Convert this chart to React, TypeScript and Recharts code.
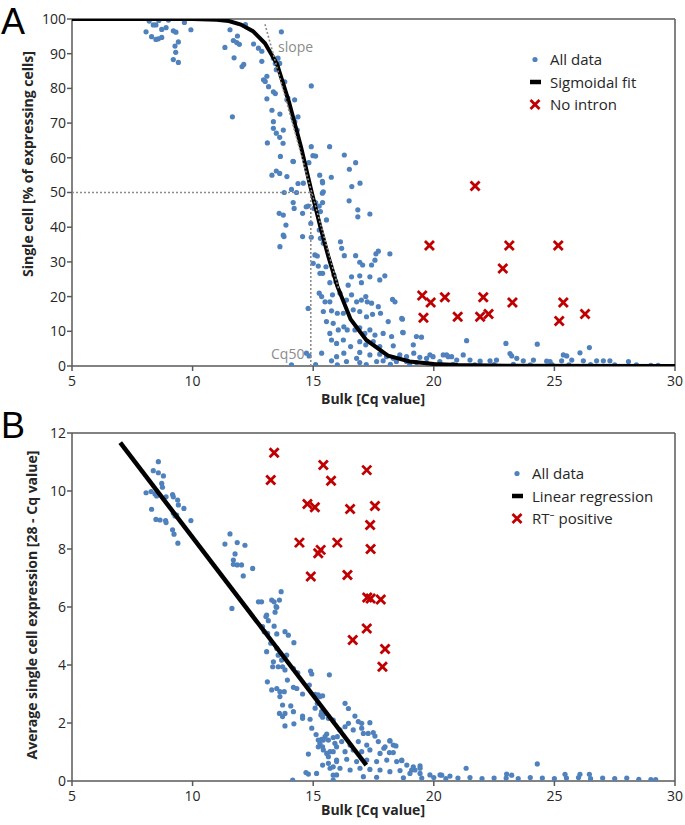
import { ScatterChart, Scatter, XAxis, YAxis, ReferenceLine } from "recharts";

const BLUE = "#4f81bd";
const RED = "#c00000";
const AXIS = "#595959";
const GUIDE = "#8c8c8c";
const TEXT = "#262626";
const FONT = "'Open Sans', 'Noto Sans', sans-serif";

const X_TICKS = [5, 10, 15, 20, 25, 30];
const A_Y_TICKS = [0, 10, 20, 30, 40, 50, 60, 70, 80, 90, 100];
const B_Y_TICKS = [0, 2, 4, 6, 8, 10, 12];

const CQ50 = 14.9;

// panel A: all data
const A_TOP: [number, number][] = [
  [8.07, 96.3], [8.3, 94.9], [8.37, 98.3], [8.48, 98.3], [8.48, 94.1], [8.58, 94.3], [8.72, 94.7], [8.72, 97.0],
  [8.9, 97.5], [9.2, 96.6], [9.31, 96.2], [9.27, 92.2], [9.3, 90.4], [9.2, 88.3], [9.41, 87.5], [9.41, 93.4],
  [9.66, 99.0], [9.93, 96.9], [8.6, 99.6], [9.0, 99.7], [8.2, 99.4],
  [11.34, 91.8], [11.55, 96.9], [11.65, 71.8], [11.69, 93.8], [11.72, 88.8], [11.83, 93.2], [11.86, 95.1],
  [11.94, 92.7], [12.05, 86.3], [12.12, 86.9], [12.19, 98.4], [12.53, 92.8], [12.73, 91.6], [12.87, 90.7],
  [12.87, 87.8], [12.94, 82.5],
];

const A_STEEP: [number, number][] = [
  [13.01, 82.0], [13.08, 83.5], [13.15, 80.5], [13.08, 77.0], [13.29, 73.7], [13.35, 70.4], [13.35, 68.5],
  [13.43, 78.5], [13.35, 79.0], [13.47, 67.1], [13.1, 64.3], [13.61, 65.9], [13.68, 96.3], [13.64, 60.4],
  [13.75, 64.2], [13.61, 55.5], [13.29, 55.0], [13.47, 56.2], [13.54, 88.7], [13.35, 88.7], [13.43, 87.2],
  [13.61, 87.2], [13.47, 85.4], [13.82, 81.9], [13.91, 76.7], [13.95, 77.2], [14.17, 71.4], [14.23, 76.7],
  [14.37, 71.8], [14.34, 68.0], [14.16, 59.0], [13.91, 54.6], [14.37, 52.6], [14.92, 80.7], [14.92, 63.2],
  [14.99, 60.6], [15.1, 60.5], [15.27, 55.0], [15.68, 63.2], [15.75, 54.4], [14.82, 58.6], [14.18, 58.9],
  [16.29, 60.8], [16.76, 58.6], [16.5, 56.7], [16.94, 52.7], [16.6, 51.7], [14.59, 52.7], [13.62, 72.6],
  [13.76, 68.0], [14.24, 70.4],
  [14.1, 50.9], [13.8, 50.0], [14.31, 50.0], [15.39, 52.8], [15.42, 50.2], [15.39, 47.1], [16.49, 47.6],
  [16.85, 45.0], [16.85, 43.0], [17.35, 43.8], [14.17, 47.1], [14.21, 45.4], [13.59, 44.0], [13.76, 43.5],
  [14.56, 44.0], [14.79, 46.1], [15.25, 46.1], [15.3, 44.5], [15.55, 42.1], [13.87, 40.6], [14.9, 41.1],
  [15.1, 47.1], [15.03, 45.4], [14.71, 45.9], [15.38, 49.8], [15.38, 53.2],
];

const A_MID: [number, number][] = [
  [13.76, 37.7], [13.79, 37.3], [14.56, 37.3], [13.62, 34.4], [14.92, 37.1], [15.25, 39.2], [15.3, 36.8],
  [15.42, 35.4], [16.13, 35.8], [16.18, 33.9], [15.07, 32.0], [15.17, 31.7], [16.29, 31.8], [16.76, 31.8],
  [16.93, 29.9], [17.05, 29.1], [17.42, 29.1], [17.56, 30.5], [17.7, 33.1], [17.6, 32.3], [18.18, 32.3],
  [15.0, 29.6], [15.21, 28.8], [15.28, 26.7], [15.39, 26.7], [15.53, 28.6], [15.86, 26.2], [15.94, 24.3],
  [15.69, 24.0], [16.59, 25.7], [16.93, 26.0], [17.0, 24.0], [17.35, 25.7], [17.76, 24.8], [17.97, 26.0],
  [16.45, 23.3], [15.25, 21.0], [15.35, 20.0], [15.49, 18.5], [15.69, 18.5], [15.8, 20.5], [16.11, 21.0],
  [16.38, 19.0], [16.59, 20.5], [16.8, 18.5], [17.0, 19.0], [17.18, 20.0], [17.24, 18.5], [17.42, 18.1],
  [17.7, 17.1], [18.29, 19.2], [18.39, 18.5], [14.79, 16.6], [15.42, 15.7], [15.76, 15.9], [16.0, 15.2],
  [16.25, 15.2], [16.66, 16.2], [16.93, 15.7], [17.21, 14.2], [17.46, 14.9], [17.79, 15.2], [18.11, 12.8],
  [18.7, 13.5], [15.55, 12.8], [15.83, 12.3], [16.04, 10.4], [16.27, 11.3], [16.41, 10.4], [16.73, 10.4],
  [16.93, 11.0], [17.35, 10.4], [18.73, 9.6], [18.67, 13.7], [18.71, 9.7],
];

const A_LOW: [number, number][] = [
  [15.69, 9.4], [17.14, 9.4], [17.56, 8.9], [17.9, 9.4], [18.25, 8.5], [15.76, 7.5], [15.97, 6.5], [16.25, 7.5],
  [16.55, 5.6], [16.93, 7.0], [17.18, 6.1], [17.49, 7.0], [17.76, 5.6], [18.32, 5.8], [19.15, 6.1], [19.28, 8.5],
  [19.49, 8.3], [15.35, 3.7], [15.97, 2.7], [16.27, 3.7], [16.8, 2.2], [16.93, 3.9], [17.35, 3.2], [17.76, 3.4],
  [18.04, 2.7], [18.32, 2.2], [18.59, 3.2], [18.87, 2.7], [19.17, 3.7], [19.42, 2.5], [19.7, 2.2], [19.97, 2.7],
  [20.39, 3.2], [20.6, 2.7], [14.83, 2.9], [14.72, 3.7], [15.76, 1.5], [16.38, 1.3], [16.93, 1.0], [17.63, 1.3],
  [17.9, 1.5], [18.45, 1.3], [18.87, 1.3], [19.28, 1.0], [19.7, 1.0], [20.25, 1.3], [14.1, 0.3], [15.1, 0.4],
  [16.0, 0.3], [17.2, 0.4], [18.2, 0.5], [19.0, 0.4],
];

const A_TAIL: [number, number][] = [
  [21.36, 7.3], [22.99, 6.5], [24.29, 6.3], [26.45, 5.3], [26.06, 3.8], [19.84, 3.2], [20.53, 3.2], [20.74, 2.7],
  [20.95, 1.7], [21.22, 3.2], [21.5, 1.7], [21.92, 1.4], [22.33, 1.5], [22.6, 1.7], [23.16, 3.6], [23.23, 2.9],
  [23.44, 2.2], [23.71, 1.5], [24.13, 1.7], [24.68, 1.4], [24.82, 1.3], [25.3, 1.5], [25.37, 3.2], [25.51, 2.9],
  [25.72, 1.7], [26.2, 1.5], [26.75, 1.5], [27.03, 1.5], [27.3, 1.5], [28.07, 1.3], [20.0, 0.4], [20.8, 0.5],
  [21.7, 0.3], [22.5, 0.4], [23.3, 0.5], [24.0, 0.3], [24.9, 0.4], [25.6, 0.3], [26.5, 0.4], [27.5, 0.3],
  [28.4, 0.3], [29.0, 0.2], [29.3, 0.2],
];

const A_NO_INTRON: [number, number][] = [
  [21.71, 51.9], [19.82, 34.7], [23.13, 34.7], [25.16, 34.7], [22.86, 28.1], [19.52, 20.3], [19.87, 18.3],
  [20.46, 19.8], [22.05, 19.8], [23.26, 18.3], [25.37, 18.3], [19.57, 13.9], [20.99, 14.2], [21.92, 14.2],
  [22.27, 15.0], [25.2, 13.0], [26.27, 15.0],
];

// sigmoidal fit
const A_FIT: [number, number][] = [
  [5, 100], [10, 100], [11, 99.8], [11.5, 99.4], [12, 98.4], [12.5, 96.5], [13, 93], [13.5, 87], [14, 76],
  [14.5, 63], [14.94, 50], [15.3, 40], [15.63, 31.5], [16, 23], [16.55, 13.5], [17.2, 7.5], [18.1, 3],
  [19, 1.3], [20, 0.6], [21, 0.3], [23, 0.1], [30, 0],
];
const A_SLOPE: [number, number][] = [[13.0, 98.5], [16.06, 22]];
const A_CQ50_H: [number, number][] = [[5, 50], [CQ50, 50]];
const A_CQ50_V: [number, number][] = [[CQ50, 0], [CQ50, 50]];

// panel B
const B_UPPER: [number, number][] = [
  [8.07, 9.94], [8.28, 9.98], [8.37, 10.7], [8.58, 11.01], [8.58, 10.63], [8.79, 10.52], [8.72, 10.26],
  [8.75, 10.13], [8.44, 9.9], [8.51, 9.83], [8.9, 9.8], [9.17, 9.88], [9.2, 9.8], [9.38, 9.69], [9.41, 9.52],
  [9.64, 9.4], [9.2, 9.23], [9.27, 9.14], [9.34, 9.17], [9.93, 8.98], [8.3, 9.37], [8.48, 9.02], [8.65, 9.0],
  [8.88, 8.98], [8.9, 8.91], [9.17, 8.66], [9.23, 8.51], [9.39, 8.2],
  [11.55, 8.52], [11.34, 8.17], [11.85, 8.22], [12.17, 8.13], [11.76, 7.83], [11.69, 7.62], [11.69, 7.47],
  [11.85, 7.45], [12.03, 7.45], [12.49, 7.33], [12.1, 7.07], [11.63, 5.95], [12.73, 6.18], [12.86, 6.18],
  [13.28, 6.24], [13.38, 6.18], [13.67, 6.53], [13.6, 6.24], [13.46, 6.01], [13.42, 5.82], [13.04, 5.67],
];

const B_MID: [number, number][] = [
  [13.07, 5.72], [13.14, 5.53], [13.49, 5.99], [12.9, 5.32], [12.97, 5.15], [13.11, 5.09], [13.38, 5.34],
  [13.49, 5.07], [13.83, 5.15], [13.97, 5.03], [14.2, 4.77], [13.24, 4.75], [13.07, 4.46], [13.49, 4.57],
  [13.55, 4.34], [13.9, 4.34], [13.69, 4.17], [13.35, 4.11], [13.32, 3.94], [13.55, 3.94], [13.73, 3.94],
  [13.83, 3.83], [14.18, 3.88], [14.36, 3.73], [14.89, 3.79], [14.94, 3.69], [15.67, 3.66], [13.1, 3.42],
  [13.93, 3.48], [13.49, 3.19], [13.28, 3.14], [13.62, 3.08], [13.8, 3.08], [14.18, 3.23], [14.32, 3.19],
  [13.62, 2.91], [14.56, 3.0], [14.84, 3.31], [15.08, 2.99], [15.28, 2.91], [15.39, 2.94], [13.73, 2.62],
  [14.07, 2.59], [15.08, 2.51], [13.6, 2.33], [13.83, 2.33], [13.73, 2.22], [13.83, 1.9], [14.18, 2.39],
  [14.56, 2.24], [14.56, 2.16], [14.87, 2.13], [15.32, 2.28], [15.39, 2.2], [15.49, 2.33], [15.63, 2.16],
  [14.2, 1.97], [14.94, 1.82],
];

const B_LOW: [number, number][] = [
  [15.12, 1.6], [15.21, 1.41], [15.28, 1.3], [15.35, 1.44], [15.49, 1.53], [15.63, 1.41], [15.39, 1.18],
  [15.21, 1.18], [15.83, 1.5], [15.9, 1.3], [15.7, 1.01], [15.56, 0.95], [14.8, 0.93], [15.39, 0.55],
  [15.63, 0.61], [15.7, 0.44], [15.83, 0.49], [15.97, 0.67], [14.7, 0.29], [14.8, 0.24], [15.14, 0.26],
  [14.15, 0.03], [15.83, 0.2], [15.83, 0.03],
  [15.21, 2.97], [15.17, 2.68], [15.35, 2.39], [15.83, 2.1], [16.32, 2.68], [16.46, 2.5], [16.73, 2.24],
  [16.46, 1.99], [16.32, 1.87], [16.87, 2.05], [17.01, 1.99], [17.35, 2.01], [17.49, 1.67], [17.56, 1.55],
  [17.28, 1.64], [17.01, 1.82], [17.08, 1.64], [16.66, 1.76], [16.11, 1.76], [16.0, 1.53], [15.56, 1.62],
  [15.42, 1.41], [15.97, 1.18], [16.18, 1.36], [16.53, 1.24], [16.87, 1.36], [17.22, 1.24], [17.7, 1.36],
  [18.18, 1.38], [18.32, 1.24], [17.93, 1.13], [18.16, 0.98], [17.77, 0.95], [17.35, 1.07], [17.01, 1.01],
  [16.66, 1.07], [16.32, 1.01], [15.83, 1.01], [15.63, 0.84], [15.42, 1.07], [15.97, 0.72], [16.39, 0.75],
  [16.8, 0.67], [17.22, 0.72], [17.63, 0.67], [18.05, 0.72], [18.46, 0.67], [18.67, 0.72], [18.88, 0.55],
  [19.15, 0.49], [19.43, 0.52], [16.11, 0.44], [16.53, 0.38], [16.94, 0.44], [17.35, 0.4], [17.77, 0.38],
  [18.18, 0.32], [18.6, 0.36], [19.01, 0.26], [19.43, 0.26], [19.84, 0.21], [20.26, 0.21], [20.67, 0.17],
  [15.97, 0.21], [17.08, 0.15], [17.63, 0.13], [18.74, 0.11],
];

const B_TAIL: [number, number][] = [
  [24.29, 0.59], [21.34, 0.44], [26.45, 0.23], [26.06, 0.23], [25.44, 0.23], [23.02, 0.24], [23.23, 0.2],
  [20.33, 0.2], [19.43, 0.44], [19.22, 0.38], [19.08, 0.38], [18.67, 0.7], [18.43, 1.21], [18.18, 1.39],
  [18.32, 0.98], [17.98, 1.18], [19.5, 0.1], [20.0, 0.12], [20.5, 0.08], [21.0, 0.1], [21.5, 0.12],
  [22.0, 0.08], [22.5, 0.1], [23.0, 0.1], [23.5, 0.08], [24.0, 0.12], [24.5, 0.1], [25.0, 0.08], [25.5, 0.1],
  [26.0, 0.12], [26.5, 0.08], [27.0, 0.1], [27.5, 0.08], [28.0, 0.1], [28.5, 0.06], [29.0, 0.05], [29.2, 0.05],
];

const B_RT_POS: [number, number][] = [
  [13.38, 11.32], [13.24, 10.38], [15.42, 10.9], [15.74, 10.35], [17.22, 10.72], [14.76, 9.55], [15.07, 9.44],
  [16.53, 9.38], [17.56, 9.48], [17.36, 8.83], [14.43, 8.22], [16.0, 8.22], [15.31, 7.97], [15.21, 7.85],
  [17.38, 8.0], [14.9, 7.05], [16.42, 7.1], [17.24, 6.33], [17.38, 6.29], [17.8, 6.26], [17.22, 5.26],
  [16.64, 4.86], [17.98, 4.55], [17.87, 3.94],
];

const B_FIT: [number, number][] = [[7.0, 11.67], [17.2, 0.55]];

const A_LEGEND = ["All data", "Sigmoidal fit", "No intron"];
const B_LEGEND = ["All data", "Linear regression", "RT\u207B positive"];

const pts = (arr: [number, number][]) => arr.map(([x, y]) => ({ x, y }));

const Dot = (p: any) => <circle cx={p.cx} cy={p.cy} r={2.6} fill={BLUE} />;
const Cross = (p: any) => {
  const s = 4.5;
  return (
    <g stroke={RED} strokeWidth={2.8} strokeLinecap="butt">
      <line x1={p.cx - s} y1={p.cy - s} x2={p.cx + s} y2={p.cy + s} />
      <line x1={p.cx - s} y1={p.cy + s} x2={p.cx + s} y2={p.cy - s} />
    </g>
  );
};
const NoMark = () => <g />;

const tickStyle = { fill: TEXT, fontSize: 14, fontFamily: FONT };

function Legend({ x, y, labels }: { x: number; y: number; labels: string[] }) {
  return (
    <g fontFamily={FONT} fontSize={15} fill={TEXT}>
      {labels.map((l, i) => {
        const by = y + i * 22.5;
        const cy = by - 5.5;
        const mx = x - 15;
        return (
          <g key={l}>
            {i === 0 && <circle cx={mx} cy={cy} r={2.6} fill={BLUE} />}
            {i === 1 && <line x1={mx - 5} x2={mx + 6} y1={cy} y2={cy} stroke="#000" strokeWidth={4.5} />}
            {i === 2 && Cross({ cx: mx, cy })}
            <text x={x} y={by}>{l}</text>
          </g>
        );
      })}
    </g>
  );
}

export default function App() {
  const aAll = pts([...A_TOP, ...A_STEEP, ...A_MID, ...A_LOW, ...A_TAIL]);
  const bAll = pts([...B_UPPER, ...B_MID, ...B_LOW, ...B_TAIL]);
  return (
    <div style={{ position: "absolute", left: 0, top: 0, width: 685, height: 825, background: "#fff" }}>
      <div style={{ position: "absolute", left: 0, top: 0 }}>
        <ScatterChart width={685} height={410} margin={{ top: 19, right: 10, bottom: 14, left: 32 }}>
          <XAxis
            type="number"
            dataKey="x"
            domain={[5, 30]}
            ticks={X_TICKS}
            allowDataOverflow
            stroke={AXIS}
            strokeWidth={1.5}
            tickSize={5}
            tickMargin={5}
            tick={tickStyle}
            height={30}
          />
          <YAxis
            type="number"
            dataKey="y"
            domain={[0, 100]}
            ticks={A_Y_TICKS}
            allowDataOverflow
            stroke={AXIS}
            strokeWidth={1.5}
            tickSize={5}
            tickMargin={1}
            tick={tickStyle}
            width={40}
          />
          <ReferenceLine y={100} stroke={AXIS} strokeWidth={1.5} />
          <ReferenceLine x={30} stroke={AXIS} strokeWidth={1.5} />
          <Scatter name="All data" data={aAll} shape={Dot} isAnimationActive={false} />
          <Scatter data={pts(A_FIT)} shape={NoMark} line={{ stroke: "#000", strokeWidth: 4 }} isAnimationActive={false} />
          <Scatter data={pts(A_SLOPE)} shape={NoMark} line={{ stroke: GUIDE, strokeWidth: 1.6, strokeDasharray: "2 2" }} isAnimationActive={false} />
          <Scatter data={pts(A_CQ50_H)} shape={NoMark} line={{ stroke: GUIDE, strokeWidth: 1.6, strokeDasharray: "2 2" }} isAnimationActive={false} />
          <Scatter data={pts(A_CQ50_V)} shape={NoMark} line={{ stroke: GUIDE, strokeWidth: 1.6, strokeDasharray: "2 2" }} isAnimationActive={false} />
          <Scatter name="No intron" data={pts(A_NO_INTRON)} shape={Cross} isAnimationActive={false} />
        </ScatterChart>
      </div>
      <div style={{ position: "absolute", left: 0, top: 410 }}>
        <ScatterChart width={685} height={415} margin={{ top: 23, right: 10, bottom: 14, left: 32 }}>
          <XAxis
            type="number"
            dataKey="x"
            domain={[5, 30]}
            ticks={X_TICKS}
            allowDataOverflow
            stroke={AXIS}
            strokeWidth={1.5}
            tickSize={5}
            tickMargin={5}
            tick={tickStyle}
            height={30}
          />
          <YAxis
            type="number"
            dataKey="y"
            domain={[0, 12]}
            ticks={B_Y_TICKS}
            allowDataOverflow
            stroke={AXIS}
            strokeWidth={1.5}
            tickSize={5}
            tickMargin={1}
            tick={tickStyle}
            width={40}
          />
          <ReferenceLine y={12} stroke={AXIS} strokeWidth={1.5} />
          <ReferenceLine x={30} stroke={AXIS} strokeWidth={1.5} />
          <Scatter name="All data" data={bAll} shape={Dot} isAnimationActive={false} />
          <Scatter data={pts(B_FIT)} shape={NoMark} line={{ stroke: "#000", strokeWidth: 4.5 }} isAnimationActive={false} />
          <Scatter name="RT- positive" data={pts(B_RT_POS)} shape={Cross} isAnimationActive={false} />
        </ScatterChart>
      </div>
      <svg
        width={685}
        height={825}
        style={{ position: "absolute", left: 0, top: 0, pointerEvents: "none" }}
      >
        <g fontFamily="'Liberation Sans', Arial, sans-serif" fill="#000">
          <text x={1} y={34} fontSize={36}>A</text>
          <text x={1} y={438} fontSize={36}>B</text>
        </g>
        <g fontFamily={FONT} fontWeight="bold" fontSize={14} fill={TEXT} textAnchor="middle">
          <text transform="translate(33,164) rotate(-90)">Single cell [% of expressing cells]</text>
          <text x={373} y={404}>Bulk [Cq value]</text>
          <text transform="translate(37,605) rotate(-90)">Average single cell expression [28 - Cq value]</text>
          <text x={373} y={815}>Bulk [Cq value]</text>
        </g>
        <g fontFamily={FONT} fontSize={14} fill={GUIDE}>
          <text x={278} y={52}>slope</text>
          <text x={271} y={359}>Cq50</text>
        </g>
        <Legend x={550} y={65} labels={A_LEGEND} />
        <Legend x={532} y={479} labels={B_LEGEND} />
      </svg>
    </div>
  );
}
